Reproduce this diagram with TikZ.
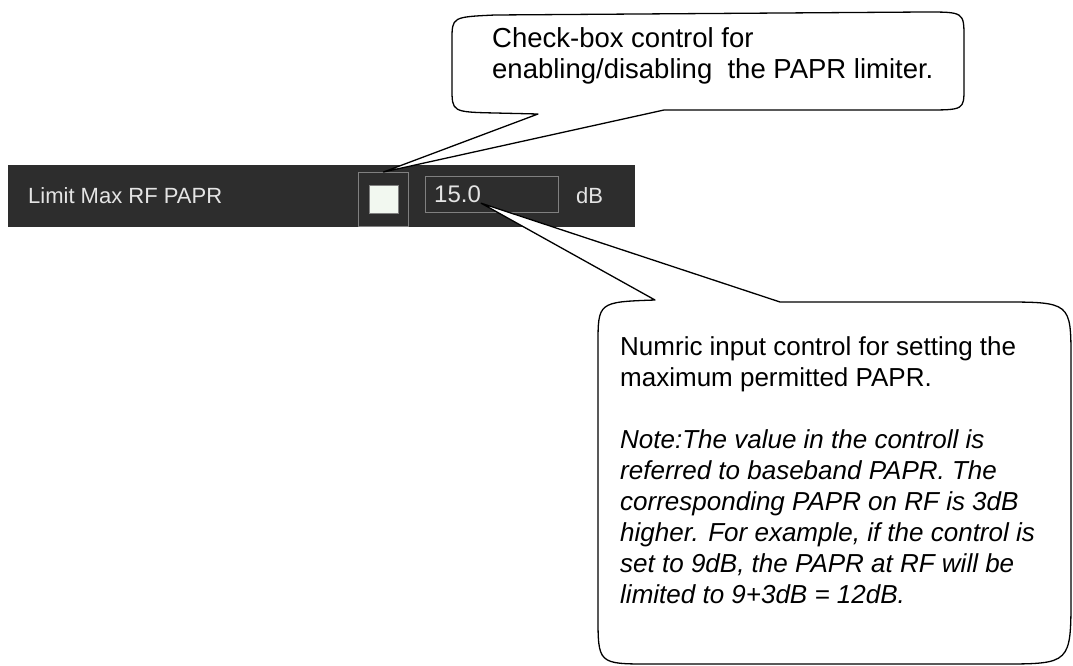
\documentclass[tikz,border=0pt]{standalone}
\usepackage{fontspec}
\setmainfont{Liberation Sans}
\usetikzlibrary{positioning,calc}
\definecolor{barbg}{HTML}{2D2D2D}
\definecolor{ctlline}{HTML}{808080}
\definecolor{ctltext}{HTML}{E4E4E4}
\definecolor{markfill}{HTML}{F2F8F0}
\tikzstyle{uitext}=[text=ctltext, inner sep=0pt, anchor=west,
                    font=\fontsize{22}{24}\selectfont]
\tikzstyle{ctlbox}=[rectangle, draw=ctlline, line width=1pt, inner sep=0pt]
\tikzstyle{calline}=[draw=black, line width=1.3pt, fill=white, line join=round]
\tikzstyle{caltext}=[align=left, anchor=north west, inner sep=0pt]

\begin{document}
\begin{tikzpicture}[x=1pt,y=-1pt]
\useasboundingbox (0,0) rectangle (1073,666);
\fill[white] (0,0) rectangle (1073,666);

% control row
\node (BAR) [rectangle, fill=barbg, inner sep=0pt, anchor=north west,
  minimum width=627pt, minimum height=62pt] at (8,165) {};
\node (LBL) [uitext] at (28,196) {Limit Max RF PAPR};
\node (CBOX) [ctlbox, anchor=north west, minimum width=50pt, minimum height=54pt] at (358,172) {};
\node (CMARK) [ctlbox, fill=markfill, minimum width=29pt, minimum height=28pt] at (CBOX.center) {};
\node (FLD) [ctlbox, anchor=north west, minimum width=133pt, minimum height=36pt] at (425,176) {};
\node (VAL) [uitext, font=\fontsize{24}{26}\selectfont, right=9pt of FLD.west] {15.0};
\node (UNIT) [uitext] at (576,196) {dB};

% callout for the check box
\draw[calline] (538,114) -- (CBOX.north) -- (664,110) -- (925,110)
  .. controls (964,110) .. (964,88) -- (964,38)
  .. controls (964,12) .. (925,12) -- (495,15)
  .. controls (452,17) .. (452,40) -- (452,88)
  .. controls (452,112) .. (495,113) -- cycle;
\node (NOTE1) [caltext, font=\fontsize{27.5}{31}\selectfont] at (492,27)
  {Check-box control for\\enabling/disabling\ \ the PAPR limiter.};

% callout for the numeric field
\draw[calline] (655,300) -- (VAL.south east) -- (780,302) -- (1000,302)
  .. controls (1071,302) .. (1071,360) -- (1071,595)
  .. controls (1071,664) .. (1000,664) -- (650,664)
  .. controls (598,664) .. (598,615) -- (598,345)
  .. controls (598,302) .. (655,300) -- cycle;
\node (NOTE2) [caltext, font=\fontsize{26}{31}\selectfont] at (620,336)
  {Numric input control for setting the\\
   maximum permitted PAPR.\\[31pt]
   \itshape Note:The value in the controll is\\
   \itshape referred to baseband PAPR. The\\
   \itshape corresponding PAPR on RF is 3dB\\
   \itshape higher. For example, if the control is\\
   \itshape set to 9dB, the PAPR at RF will be\\
   \itshape limited to 9+3dB = 12dB.};

\end{tikzpicture}
\end{document}
